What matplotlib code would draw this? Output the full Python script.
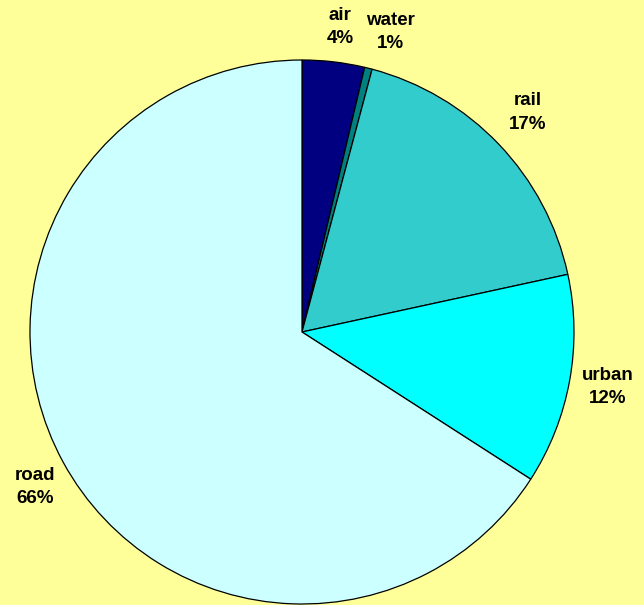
import matplotlib
matplotlib.use("Agg")
import matplotlib.pyplot as plt

categories = ["air", "water", "rail", "urban", "road"]
values = [3.7, 0.45, 17.45, 12.5, 65.9]
pct_labels = ["4%", "1%", "17%", "12%", "66%"]
colors = ["#000080", "#008080", "#33CCCC", "#00FFFF", "#CCFFFF"]
label_pos = [(0.140, 1.121), (0.324, 1.103), (0.831, 0.807), (1.125, -0.202), (-0.982, -0.570)]

W, H = 644, 605
fig = plt.figure(figsize=(W / 100, H / 100), dpi=100)
fig.patch.set_facecolor("#FFFF99")
cx, cy, r = 302, 332, 272
ax = fig.add_axes([(cx - r) / W, (H - cy - r) / H, 2 * r / W, 2 * r / H])
ax.set_facecolor("none")

wedges, texts = ax.pie(values, colors=colors, startangle=90, counterclock=False,
                       labels=[f"{c}\n{p}" for c, p in zip(categories, pct_labels)],
                       wedgeprops=dict(edgecolor="black", linewidth=0.9),
                       textprops=dict(fontsize=13.5, fontweight="bold",
                                      family="Liberation Sans", color="black",
                                      linespacing=1.5))
for t, (x, y) in zip(texts, label_pos):
    t.set_position((x, y))
    t.set_ha("center")
    t.set_va("center")
ax.set_xlim(-1, 1)
ax.set_ylim(-1, 1)
ax.set_aspect("equal")
ax.axis("off")
fig.savefig("out.png", dpi=100, facecolor=fig.get_facecolor())
